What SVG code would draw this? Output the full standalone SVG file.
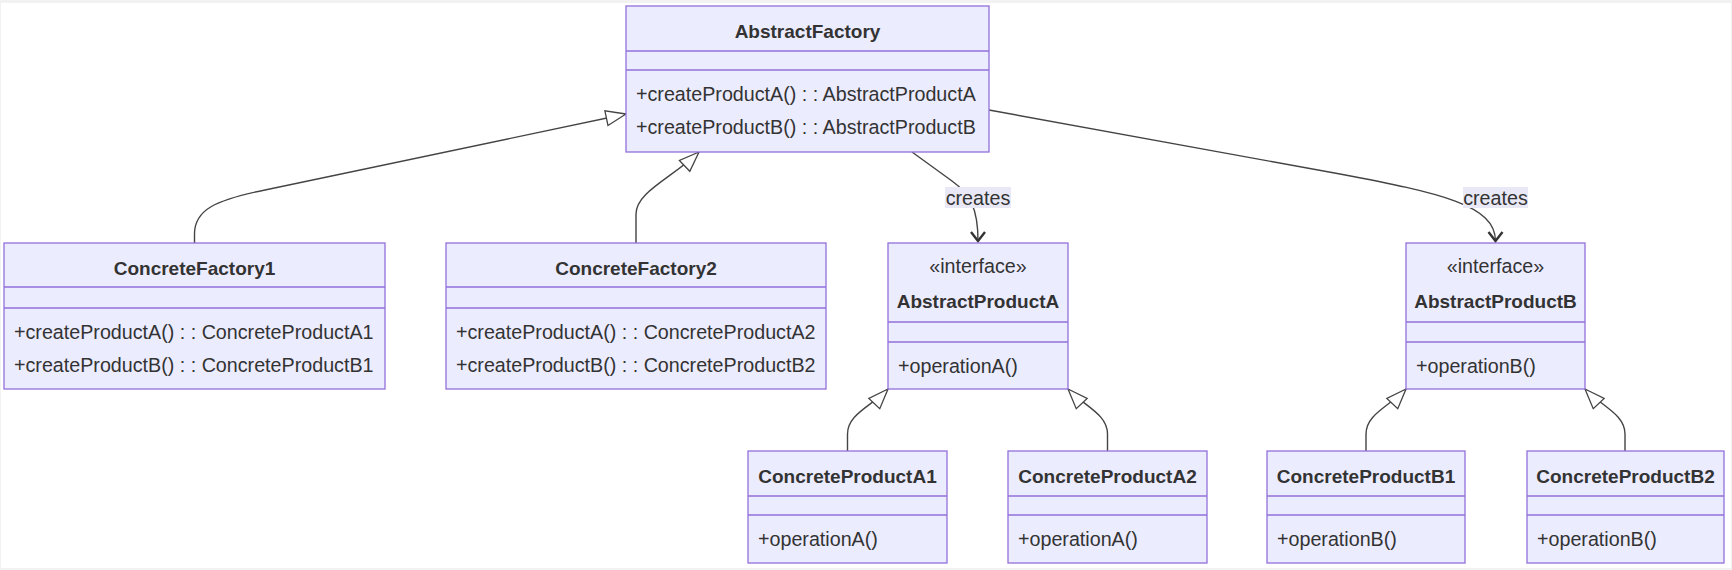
<svg xmlns="http://www.w3.org/2000/svg" width="1732" height="570" viewBox="0 0 1732 570">
<style>
.box{fill:#ECECFF;stroke:#9370DB;stroke-width:1.3}
.div{stroke:#9370DB;stroke-width:1.3}
.t{font-family:"Liberation Sans",Arial,sans-serif;font-size:19px;font-weight:bold;fill:#333;text-anchor:middle}
.m{font-family:"Liberation Sans",Arial,sans-serif;font-size:19.7px;fill:#333}
.st{font-family:"Liberation Sans",Arial,sans-serif;font-size:19.7px;fill:#333;text-anchor:middle}
.e{fill:none;stroke:#444;stroke-width:1.4}
.lbg{fill:#E8E8F6}
.lt{font-family:"Liberation Sans",Arial,sans-serif;font-size:19.7px;fill:#333;text-anchor:middle}
</style>
<defs>
<marker id="tri" viewBox="-23 -10 26 20" refX="0" refY="0" markerWidth="26" markerHeight="20" markerUnits="userSpaceOnUse" orient="auto">
<path d="M0,0 L-20,-7.5 L-20,7.5 Z" fill="#fff" stroke="#444" stroke-width="1.3"/>
</marker>
<marker id="vee" viewBox="-13 -10 16 20" refX="0" refY="0" markerWidth="16" markerHeight="20" markerUnits="userSpaceOnUse" orient="auto">
<path d="M-9,-7 L0,0 L-9,7" fill="none" stroke="#333" stroke-width="2.4"/>
</marker>
</defs>
<rect x="0" y="0" width="1732" height="570" fill="#F2F2F2"/>
<rect x="1" y="3" width="1730" height="565" fill="#FFFFFF"/>

<g id="connectors">
<path class="e" d="M194.5,243 L194.5,234 C194.5,210 215,200 265,190 L626,114" marker-end="url(#tri)"/>
<path class="e" d="M636,243 L636,214 C636,192 672,178 699,152" marker-end="url(#tri)"/>
<path class="e" d="M912,152 L952,181 C970,194 978,208 978,241" marker-end="url(#vee)"/>
<path class="e" d="M989,110 L1340,174 C1440,193 1495.5,205 1495.5,241" marker-end="url(#vee)"/>
<path class="e" d="M847.5,451 L847.5,434 C847.5,414 872,406 888,389" marker-end="url(#tri)"/>
<path class="e" d="M1107.5,451 L1107.5,434 C1107.5,414 1084,406 1068,389" marker-end="url(#tri)"/>
<path class="e" d="M1366,451 L1366,434 C1366,414 1390,406 1406,389" marker-end="url(#tri)"/>
<path class="e" d="M1625,451 L1625,434 C1625,414 1601,406 1585,389" marker-end="url(#tri)"/>
<g id="label-creates-a">
<rect class="lbg" x="945" y="187" width="66" height="21"/>
<text class="lt" x="978" y="205">creates</text>
</g>
<g id="label-creates-b">
<rect class="lbg" x="1463" y="187" width="65" height="21"/>
<text class="lt" x="1495.5" y="205">creates</text>
</g>
</g>

<g id="AbstractFactory">
<rect class="box" x="626" y="6" width="363" height="146"/>
<line class="div" x1="626" y1="51" x2="989" y2="51"/>
<line class="div" x1="626" y1="70" x2="989" y2="70"/>
<text class="t" x="807.5" y="37.5">AbstractFactory</text>
<text class="m" x="636" y="101">+createProductA() : : AbstractProductA</text>
<text class="m" x="636" y="134">+createProductB() : : AbstractProductB</text>
</g>

<g id="ConcreteFactory1">
<rect class="box" x="4" y="243" width="381" height="146"/>
<line class="div" x1="4" y1="287" x2="385" y2="287"/>
<line class="div" x1="4" y1="308" x2="385" y2="308"/>
<text class="t" x="194.5" y="274.5">ConcreteFactory1</text>
<text class="m" x="14" y="339">+createProductA() : : ConcreteProductA1</text>
<text class="m" x="14" y="372">+createProductB() : : ConcreteProductB1</text>
</g>

<g id="ConcreteFactory2">
<rect class="box" x="446" y="243" width="380" height="146"/>
<line class="div" x1="446" y1="287" x2="826" y2="287"/>
<line class="div" x1="446" y1="308" x2="826" y2="308"/>
<text class="t" x="636" y="274.5">ConcreteFactory2</text>
<text class="m" x="456" y="339">+createProductA() : : ConcreteProductA2</text>
<text class="m" x="456" y="372">+createProductB() : : ConcreteProductB2</text>
</g>

<g id="AbstractProductA">
<rect class="box" x="888" y="243" width="180" height="146"/>
<line class="div" x1="888" y1="322" x2="1068" y2="322"/>
<line class="div" x1="888" y1="342" x2="1068" y2="342"/>
<text class="st" x="978" y="273">«interface»</text>
<text class="t" x="978" y="308">AbstractProductA</text>
<text class="m" x="898" y="373">+operationA()</text>
</g>

<g id="AbstractProductB">
<rect class="box" x="1406" y="243" width="179" height="146"/>
<line class="div" x1="1406" y1="322" x2="1585" y2="322"/>
<line class="div" x1="1406" y1="342" x2="1585" y2="342"/>
<text class="st" x="1495.5" y="273">«interface»</text>
<text class="t" x="1495.5" y="308">AbstractProductB</text>
<text class="m" x="1416" y="373">+operationB()</text>
</g>

<g id="ConcreteProductA1">
<rect class="box" x="748" y="451" width="199" height="112"/>
<line class="div" x1="748" y1="496" x2="947" y2="496"/>
<line class="div" x1="748" y1="515" x2="947" y2="515"/>
<text class="t" x="847.5" y="482.5">ConcreteProductA1</text>
<text class="m" x="758" y="546">+operationA()</text>
</g>

<g id="ConcreteProductA2">
<rect class="box" x="1008" y="451" width="199" height="112"/>
<line class="div" x1="1008" y1="496" x2="1207" y2="496"/>
<line class="div" x1="1008" y1="515" x2="1207" y2="515"/>
<text class="t" x="1107.5" y="482.5">ConcreteProductA2</text>
<text class="m" x="1018" y="546">+operationA()</text>
</g>

<g id="ConcreteProductB1">
<rect class="box" x="1267" y="451" width="198" height="112"/>
<line class="div" x1="1267" y1="496" x2="1465" y2="496"/>
<line class="div" x1="1267" y1="515" x2="1465" y2="515"/>
<text class="t" x="1366" y="482.5">ConcreteProductB1</text>
<text class="m" x="1277" y="546">+operationB()</text>
</g>

<g id="ConcreteProductB2">
<rect class="box" x="1527" y="451" width="197" height="112"/>
<line class="div" x1="1527" y1="496" x2="1724" y2="496"/>
<line class="div" x1="1527" y1="515" x2="1724" y2="515"/>
<text class="t" x="1625.5" y="482.5">ConcreteProductB2</text>
<text class="m" x="1537" y="546">+operationB()</text>
</g>
</svg>
